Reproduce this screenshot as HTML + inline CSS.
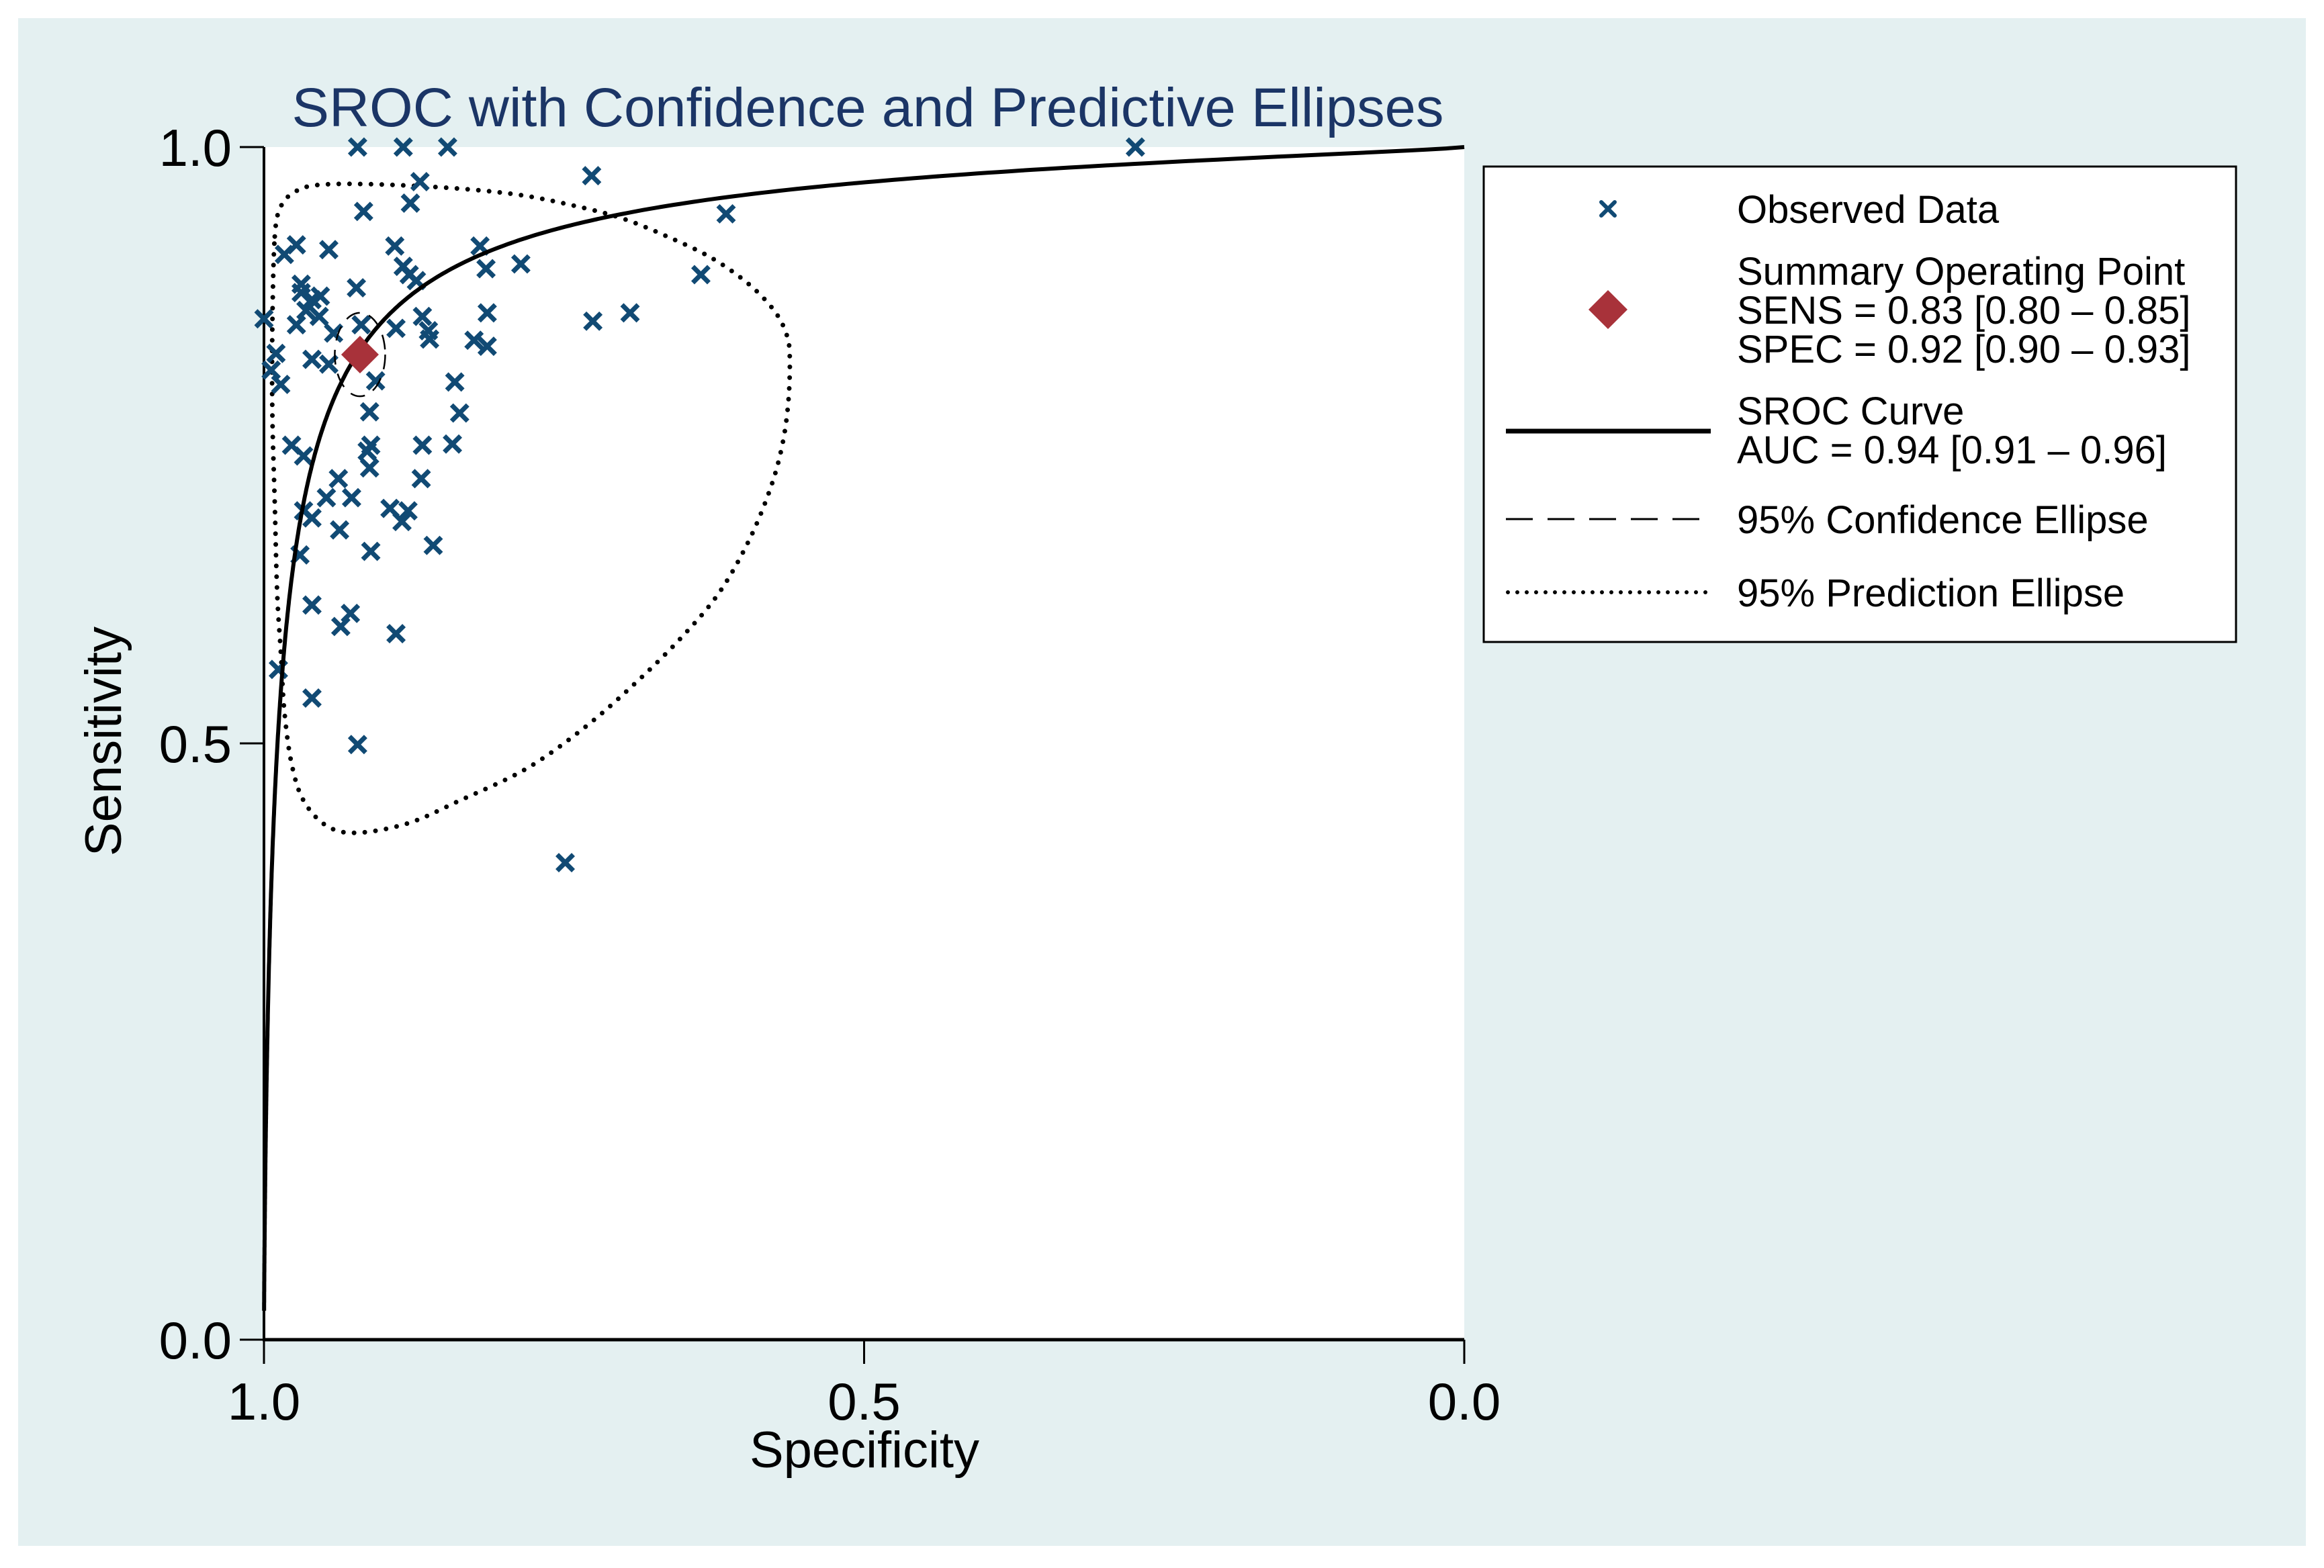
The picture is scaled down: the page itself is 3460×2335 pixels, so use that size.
<!DOCTYPE html>
<html><head><meta charset="utf-8"><style>
html,body{margin:0;padding:0;background:#fff;}
svg{display:block;font-family:"Liberation Sans",Arial,sans-serif;}
</style></head><body>
<svg id="chart" width="3460" height="2335" viewBox="0 0 3460 2335" xmlns="http://www.w3.org/2000/svg">
<rect x="27" y="27" width="3406" height="2275" fill="#e4f0f1"/>
<rect x="393" y="219" width="1787" height="1776" fill="#fff"/>
<text x="1292" y="188" font-size="82" fill="#1b3566" text-anchor="middle" textLength="1715" lengthAdjust="spacingAndGlyphs">SROC with Confidence and Predictive Ellipses</text>
<g id="axes"></g>
<g id="marks"></g>
<text x="1287" y="2185" font-size="76" text-anchor="middle">Specificity</text>
<text x="0" y="0" font-size="76" text-anchor="middle" transform="translate(180,1104) rotate(-90)">Sensitivity</text>
<g>
<rect x="2209" y="248" width="1120" height="708" fill="#fff" stroke="#000" stroke-width="3"/>
<g stroke="#114a74" stroke-width="6" stroke-linecap="round"><line x1="2384" y1="301" x2="2404" y2="321"/><line x1="2404" y1="301" x2="2384" y2="321"/></g>
<text x="2586" y="332" font-size="58">Observed Data</text>
<polygon points="2394,432 2423,461 2394,490 2365,461" fill="#a8323a"/>
<text x="2586" y="424" font-size="58">Summary Operating Point</text>
<text x="2586" y="482" font-size="58">SENS = 0.83 [0.80 – 0.85]</text>
<text x="2586" y="540" font-size="58">SPEC = 0.92 [0.90 – 0.93]</text>
<line x1="2242" y1="642" x2="2547" y2="642" stroke="#000" stroke-width="7"/>
<text x="2586" y="632" font-size="58">SROC Curve</text>
<text x="2586" y="690" font-size="58">AUC = 0.94 [0.91 – 0.96]</text>
<line x1="2242" y1="773" x2="2547" y2="773" stroke="#000" stroke-width="3" stroke-dasharray="40 22"/>
<text x="2586" y="794" font-size="58">95% Confidence Ellipse</text>
<line x1="2245" y1="882" x2="2547" y2="882" stroke="#000" stroke-width="6" stroke-dasharray="0 14" stroke-linecap="round"/>
<text x="2586" y="903" font-size="58">95% Prediction Ellipse</text>
</g>
</svg>
<script>
// ---- data ----
const obsSpec = [0.922,0.884,0.847,0.274,0.727,0.870,0.878,0.917,0.615,0.973,0.946,0.983,0.891,0.820,0.786,0.884,0.815,0.636,0.879,0.873,0.969,0.923,0.969,0.953,0.960,0.965,0.954,0.868,0.814,0.695,0.726,1.0,0.973,0.919,0.890,0.863,0.862,0.825,0.814,0.942,0.990,0.960,0.946,0.994,0.907,0.986,0.841,0.912,0.837,0.977,0.911,0.868,0.843,0.967,0.914,0.912,0.869,0.938,0.948,0.927,0.895,0.967,0.880,0.960,0.885,0.937,0.911,0.970,0.859,0.960,0.928,0.936,0.890,0.988,0.960,0.922,0.749];
const obsSens = [1.0,1.0,1.0,1.0,0.976,0.971,0.953,0.946,0.944,0.918,0.914,0.910,0.917,0.917,0.902,0.900,0.898,0.893,0.893,0.888,0.885,0.882,0.878,0.875,0.872,0.863,0.858,0.858,0.861,0.861,0.854,0.856,0.851,0.851,0.848,0.846,0.839,0.838,0.833,0.844,0.827,0.822,0.818,0.813,0.804,0.801,0.803,0.778,0.777,0.750,0.750,0.750,0.751,0.741,0.745,0.731,0.722,0.722,0.706,0.706,0.697,0.695,0.695,0.689,0.686,0.679,0.661,0.658,0.666,0.616,0.609,0.598,0.592,0.562,0.538,0.499,0.400];
const summarySpec = 0.92;
const summarySens = 0.826;
const srocAlpha = 3.49;
const srocBeta = 0.78;
const predSpec = [0.991,0.986,0.975,0.957,0.917,0.849,0.788,0.738,0.701,0.664,0.627,0.596,0.575,0.565,0.562,0.563,0.568,0.578,0.596,0.621,0.652,0.689,0.732,0.781,0.837,0.880,0.923,0.948,0.967,0.977,0.983,0.986,0.989,0.991,0.993,0.993];
const predSens = [0.925,0.950,0.962,0.968,0.969,0.966,0.960,0.950,0.940,0.925,0.907,0.885,0.863,0.844,0.826,0.788,0.751,0.714,0.670,0.626,0.589,0.552,0.514,0.479,0.452,0.433,0.425,0.431,0.452,0.483,0.527,0.577,0.626,0.701,0.776,0.851];
const confRadius = [0.021, 0.035];
const xTicks = [1.0, 0.5, 0.0];
const yTicks = [0.0, 0.5, 1.0];
const xTickLabels = ["1.0","0.5","0.0"];
const yTickLabels = ["0.0","0.5","1.0"];

// ---- scales ----
const L=393,R=2180,T=219,B=1995;
function xs(spec){return L+(1-spec)*(R-L);}
function ys(sens){return B-sens*(B-T);}
const NS="http://www.w3.org/2000/svg";
function mk(tag,parent){const e=document.createElementNS(NS,tag);parent.appendChild(e);return e;}
const axes=document.getElementById('axes');
const marks=document.getElementById('marks');

let a=mk('line',axes);


a.setAttribute('x1',L);a.setAttribute('y1',T);a.setAttribute('x2',L);a.setAttribute('y2',B+2);a.setAttribute('stroke','#000');a.setAttribute('stroke-width','4');
a=mk('line',axes);


a.setAttribute('x1',L-2);a.setAttribute('y1',B);a.setAttribute('x2',R);a.setAttribute('y2',B);a.setAttribute('stroke','#000');a.setAttribute('stroke-width','5');
xTicks.forEach((v,i)=>{
  const t=mk('line',axes);
  
  
  t.setAttribute('x1',xs(v));t.setAttribute('x2',xs(v));t.setAttribute('y1',B);t.setAttribute('y2',B+36);t.setAttribute('stroke','#000');t.setAttribute('stroke-width','3');
  const lb=mk('text',axes);
  
  
  lb.setAttribute('x',xs(v));lb.setAttribute('y',2114);lb.setAttribute('font-size','78');lb.setAttribute('text-anchor','middle');
  lb.textContent=xTickLabels[i];
});
yTicks.forEach((v,i)=>{
  const t=mk('line',axes);
  
  
  t.setAttribute('x1',L-36);t.setAttribute('x2',L);t.setAttribute('y1',ys(v));t.setAttribute('y2',ys(v));t.setAttribute('stroke','#000');t.setAttribute('stroke-width','3');
  const lb=mk('text',axes);
  
  
  lb.setAttribute('x',345);lb.setAttribute('y',ys(v)+28);lb.setAttribute('font-size','78');lb.setAttribute('text-anchor','end');
  lb.textContent=yTickLabels[i];
});

function smoothClosed(px,py){
  const n=px.length;let d=`M${px[0]},${py[0]}`;
  for(let i=0;i<n;i++){
    const p0=(i-1+n)%n,p1=i,p2=(i+1)%n,p3=(i+2)%n;
    const c1x=px[p1]+(px[p2]-px[p0])/6,c1y=py[p1]+(py[p2]-py[p0])/6;
    const c2x=px[p2]-(px[p3]-px[p1])/6,c2y=py[p2]-(py[p3]-py[p1])/6;
    d+=` C${c1x},${c1y} ${c2x},${c2y} ${px[p2]},${py[p2]}`;
  }
  return d+'Z';
}
const pe=mk('path',marks);


pe.setAttribute('d',smoothClosed(predSpec.map(xs),predSens.map(ys)));
pe.setAttribute('fill','none');pe.setAttribute('stroke','#000');pe.setAttribute('stroke-width','7');pe.setAttribute('stroke-dasharray','0 16');pe.setAttribute('stroke-linecap','round');

obsSpec.forEach((s,i)=>{
  const g=mk('g',marks);
  
  
  const cx=xs(s),cy=ys(obsSens[i]),h=12;
  g.setAttribute('stroke','#114a74');g.setAttribute('stroke-width','7');
  const l1=mk('line',g);l1.setAttribute('x1',cx-h);l1.setAttribute('y1',cy-h);l1.setAttribute('x2',cx+h);l1.setAttribute('y2',cy+h);
  const l2=mk('line',g);l2.setAttribute('x1',cx+h);l2.setAttribute('y1',cy-h);l2.setAttribute('x2',cx-h);l2.setAttribute('y2',cy+h);
});

let d='';
for(let k=0;k<=600;k++){
  const fpr=Math.pow(10,-4+4*k/600);
  const lf=Math.log(fpr/(1-fpr+1e-12));
  const z=srocAlpha+srocBeta*lf;
  const sens=1/(1+Math.exp(-z));
  d+=(k?'L':'M')+xs(1-fpr).toFixed(1)+','+ys(sens).toFixed(1);
}
const sc=mk('path',marks);


sc.setAttribute('d',d);sc.setAttribute('fill','none');sc.setAttribute('stroke','#000');sc.setAttribute('stroke-width','6');

const ce=mk('ellipse',marks);


ce.setAttribute('cx',xs(summarySpec));ce.setAttribute('cy',ys(summarySens));
ce.setAttribute('rx',confRadius[0]*(R-L));ce.setAttribute('ry',confRadius[1]*(B-T));
ce.setAttribute('fill','none');ce.setAttribute('stroke','#000');ce.setAttribute('stroke-width','2.5');ce.setAttribute('stroke-dasharray','22 14');

const sp=mk('polygon',marks);


const sx=xs(summarySpec),sy=ys(summarySens),r=28;
sp.setAttribute('points',`${sx},${sy-r} ${sx+r},${sy} ${sx},${sy+r} ${sx-r},${sy}`);
sp.setAttribute('fill','#a8323a');
</script>
</body></html>
